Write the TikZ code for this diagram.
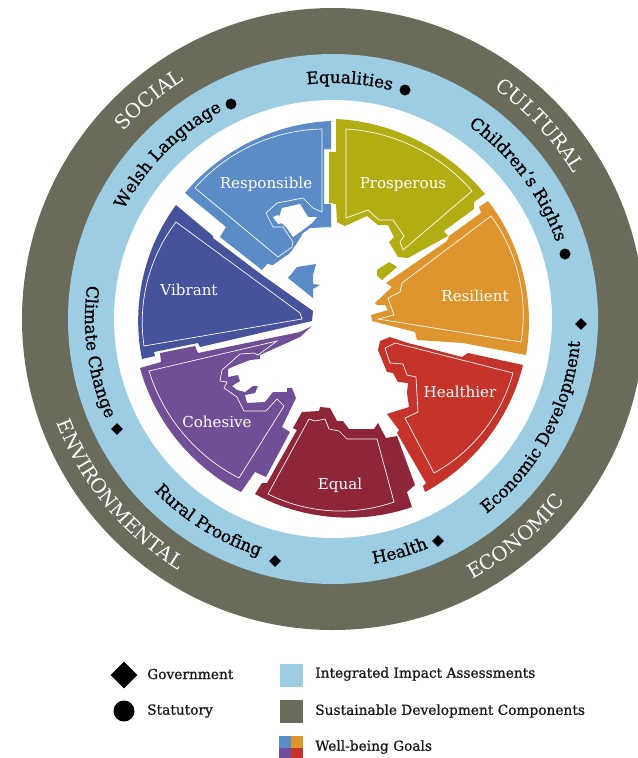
\documentclass[tikz,border=0pt]{standalone}
\usepackage{fontspec}
\usetikzlibrary{shapes.geometric, decorations.text}
\newfontfamily\slabfont{DejaVu Serif}
\newfontfamily\slabheavy[FakeBold=1]{DejaVu Serif}
\definecolor{sdgrey}{HTML}{6A6B5A}
\definecolor{iiablue}{HTML}{9CCDE3}
\definecolor{goalresp}{HTML}{5B8CC8}
\definecolor{goalpros}{HTML}{B3AD14}
\definecolor{goalresi}{HTML}{DF952D}
\definecolor{goalheal}{HTML}{C5332B}
\definecolor{goalequa}{HTML}{8E2539}
\definecolor{goalcohe}{HTML}{714F96}
\definecolor{goalvibr}{HTML}{46529C}
\newcommand{\compfont}{\slabfont\fontsize{14.8}{15}\selectfont}
\newcommand{\assessfont}{\slabheavy\fontsize{12.6}{13}\selectfont}
% text on a circle round the wheel, centred on angle #1, baseline radius \baseradius
\newcommand{\overlabel}[4]{\path[postaction={decorate},
    decoration={text along path, text align=center, text={|#4\color{#3}|#2}}]
    (wheel) ++(#1+40:\baseradius) arc[start angle=#1+40, end angle=#1-40, radius=\baseradius];}
\newcommand{\underlabel}[4]{\path[postaction={decorate},
    decoration={text along path, text align=center, text={|#4\color{#3}|#2}}]
    (wheel) ++(#1-40:\baseradius) arc[start angle=#1-40, end angle=#1+40, radius=\baseradius];}
\tikzset{
  goaltext/.style={text=white, font=\slabfont\fontsize{11.3}{12}\selectfont},
  goalline/.style={draw=white, line width=.5pt},
  legendtext/.style={anchor=west, inner sep=0pt, font=\slabheavy\fontsize{10.3}{11}\selectfont, text=black!90},
  dotmark/.style={shape=circle, fill=black, inner sep=0pt, minimum size=#1*.75pt},
  diamondmark/.style={shape=diamond, fill=black, inner sep=0pt, minimum size=#1*.75pt}
}
\begin{document}
\begin{tikzpicture}[x=.75pt, y=-.75pt, looseness=.88]
\useasboundingbox (0,0) rectangle (637,758);
\coordinate (wheel) at (333,319);
\fill[sdgrey] (wheel) circle[radius=311*.75pt];
\fill[iiablue] (wheel) circle[radius=265*.75pt];
\fill[white] (wheel) circle[radius=219*.75pt];

% Responsible
\fill[goalresp] (185,193) to[bend left=24] (331,121) -- (331,149) -- (324,149) -- (324,204) -- (331,204) -- (331,227)
  -- (310,228) -- (303,233) -- (297,243) -- (290,253) -- (273,265) -- (267,264) -- (262,270)
  -- (220,237) -- (226,227) -- cycle;
\fill[goalresp] (288,278) -- (297,267) -- (316,264) -- (313,275) -- (313,284) -- (320,285) -- (313,289) -- (313,298) -- cycle;
\draw[goalline] (195,188) to[bend left=24] (322,129) -- (322,212) -- (313,208) -- (303,198) -- (277,203) -- (266,213)
  -- (273,227) -- (283,227) -- (293,242) -- (292,247) -- (278,257) -- cycle;
\fill[white] (282,208) -- (300,204) -- (308,217) -- (317,217) -- (312,223) -- (300,232) -- (293,237) -- (287,228) -- (278,220) -- cycle;
\fill[white] (273,217) -- (278,215) -- (282,223) -- (278,224) -- cycle;
\node[goaltext] (responsible) at (266,184) {Responsible};

% Prosperous
\fill[goalpros] (336,119) to[bend left=24] (485,194) -- (474,202) -- (474,209) -- (444,231) -- (448,236) -- (408,258)
  -- (398,257) -- (389,242) -- (394,237) -- (388,225) -- (378,225) -- (367,216) -- (345,226) -- (337,222)
  -- (336,204) -- (329,203) -- (329,152) -- (336,152) -- cycle;
\fill[goalpros] (377,270) -- (389,262) -- (397,267) -- (382,280) -- (377,276) -- cycle;
\draw[goalline] (346,129) to[bend left=23] (472,191) -- (403,250) -- (400,242) -- (404,236) -- (393,220) -- (379,220)
  -- (368,210) -- (346,218) -- cycle;
\node[goaltext] (prosperous) at (403,185) {Prosperous};

% Resilient
\fill[goalresi] (488,201) to[bend left=24] (526,355) -- (463,343) -- (417,340) -- (415,332) -- (372,321) -- (371,315)
  -- (388,310) -- (385,305) -- (377,305) -- (375,303) -- (392,287) -- (386,283) -- (447,241) -- (449,236)
  -- (481,213) -- (479,207) -- cycle;
\draw[goalline] (491,216) to[bend left=23] (521,342) -- (378,319) -- (394,315) -- (388,298) -- (400,292) -- (402,283) -- cycle;
\node[goaltext] (resilient) at (475,296) {Resilient};

% Healthier
\fill[goalheal] (523,365) to[bend left=24] (425,492) -- (423,486) -- (426,483) -- (397,433) -- (399,430) -- (387,414)
  -- (409,407) -- (407,393) -- (408,383) -- (398,382) -- (393,373) -- (387,372) -- (378,350) -- (380,341)
  -- (390,337) -- (408,343) -- (462,357) -- (468,353) -- cycle;
\draw[goalline] (513,373) to[bend left=23] (434,473) -- (405,418) -- (418,412) -- (416,377) -- (407,375) -- (403,364)
  -- (390,363) -- (385,348) -- (395,343) -- cycle;
\node[goaltext] (healthier) at (460,392) {Healthier};

% Equal
\fill[goalequa] (412,507) to[bend left=24] (255,494) -- (262,483) -- (267,483) -- (297,430) -- (293,428) -- (302,412)
  -- (319,411) -- (320,407) -- (330,408) -- (337,421) -- (343,421) -- (349,429) -- (374,429) -- (378,423)
  -- (386,438) -- (397,436) -- (415,485) -- (407,492) -- cycle;
\draw[goalline] (394,502) to[bend left=23] (268,494) -- (309,419) -- (315,421) -- (325,419) -- (329,429) -- (339,431)
  -- (347,439) -- (377,439) -- cycle;
\node[goaltext] (equal) at (340,485) {Equal};

% Cohesive
\fill[goalcohe] (241,492) to[bend left=24] (140,368) -- (161,362) -- (160,353) -- (195,346) -- (198,353) -- (300,332)
  -- (312,326) -- (300,337) -- (260,355) -- (260,359) -- (250,360) -- (237,365) -- (228,369) -- (228,377)
  -- (238,375) -- (240,381) -- (232,386) -- (237,390) -- (245,392) -- (253,386) -- (258,386) -- (255,393)
  -- (245,395) -- (247,403) -- (265,402) -- (273,392) -- (287,392) -- (287,388) -- (292,388) -- (296,398)
  -- (282,427) -- (290,432) -- (266,477) -- (255,472) -- cycle;
\draw[goalline] (239,478) to[bend left=23] (149,371) -- (277,341) -- (258,355) -- (254,353) -- (240,354) -- (222,370)
  -- (220,381) -- (227,382) -- (224,388) -- (237,397) -- (244,411) -- (266,411) -- (277,399) -- (284,406) -- cycle;
\node[goaltext] (cohesive) at (217,422) {Cohesive};

% Vibrant
\fill[goalvibr] (142,359) to[bend left=24] (176,205) -- (213,236) -- (213,238) -- (262,275) -- (313,311) -- (312,321)
  -- (200,347) -- (198,343) -- (154,352) -- (155,356) -- cycle;
\draw[goalline] (144,346) to[bend left=23] (176,222) -- (300,313) -- (302,319) -- cycle;
\node[goaltext] (vibrant) at (189,290) {Vibrant};

% components
\def\baseradius{281*.75pt}
\overlabel{130}{SOCIAL}{white}{\compfont}
\overlabel{43}{CULTURAL}{white}{\compfont}
\def\baseradius{295*.75pt}
\underlabel{-140.5}{ENVIRONMENTAL}{white}{\compfont}
\underlabel{-50}{ECONOMIC}{white}{\compfont}

% assessments
\def\baseradius{236*.75pt}
\overlabel{86}{Equalities}{black}{\assessfont}
\overlabel{135.2}{Welsh Language}{black}{\assessfont}
\overlabel{37}{Children’s Rights}{black}{\assessfont}
\def\baseradius{248*.75pt}
\underlabel{-28.5}{Economic Development}{black}{\assessfont}
\underlabel{-74}{Health}{black}{\assessfont}
\underlabel{-121.7}{Rural Proofing}{black}{\assessfont}
\underlabel{-172}{Climate Change}{black}{\assessfont}
\node[dotmark=11] (equalitiesdot) at (405,90) {};
\node[dotmark=11] (welshdot) at (231,104) {};
\node[dotmark=11] (childrendot) at (565,254) {};
\node[diamondmark=12] (economicmark) at (581,324) {};
\node[diamondmark=12] (healthmark) at (438,541) {};
\node[diamondmark=12] (ruralmark) at (275,561) {};
\node[diamondmark=12] (climatemark) at (117,429) {};

% legend
\node[diamondmark=27] (govmark) at (124,675) {};
\node[legendtext] (govtext) at (147,674) {Government};
\node[dotmark=21] (statmark) at (124,711) {};
\node[legendtext] (stattext) at (147,711) {Statutory};
\fill[iiablue] (280,664) rectangle (303,687);
\node[legendtext] (iiatext) at (315,674) {Integrated Impact Assessments};
\fill[sdgrey] (280,700) rectangle (303,723);
\node[legendtext] (sdtext) at (315,711) {Sustainable Development Components};
\fill[goalresp] (279,736) rectangle (291,748);
\fill[goalresi] (291,736) rectangle (303,748);
\fill[goalcohe] (279,748) rectangle (291,758);
\fill[goalheal] (291,748) rectangle (303,758);
\node[legendtext] (goalstext) at (315,747) {Well-being Goals};
\end{tikzpicture}
\end{document}
